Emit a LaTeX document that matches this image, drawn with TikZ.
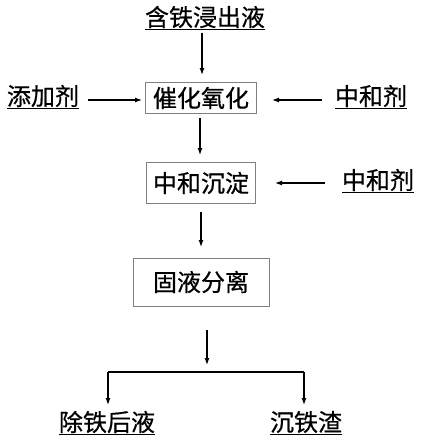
\documentclass[tikz,border=0pt]{standalone}
\usepackage{fontspec}
\setmainfont{Noto Sans CJK SC}[FakeBold=0.6]
\usetikzlibrary{arrows.meta}
\tikzset{
  stepbox/.style={draw=gray, line width=1pt, inner sep=0pt, font=\fontsize{24}{26}\selectfont},
  tag/.style={inner sep=0pt, font=\fontsize{24}{26}\selectfont},
  flow/.style={-{Latex[length=7pt,width=5pt]}, line width=1.2pt}
}
\begin{document}
\begin{tikzpicture}[x=1pt,y=-1pt]
    \useasboundingbox (0,0) rectangle (422,444);

    % Process boxes
    \node[stepbox, minimum width=111pt, minimum height=31pt] (ox) at (201,98) {催化氧化};
    \node[stepbox, minimum width=109pt, minimum height=41pt] (ne) at (201,183) {中和沉淀};
    \node[stepbox, minimum width=136pt, minimum height=48pt] (se) at (201,282) {固液分离};

    % Inputs and products
    \node[tag] (feed) at (205,18) {\underline{含铁浸出液}};
    \node[tag] (add) at (43,97) {\underline{添加剂}};
    \node[tag] (neu1) at (371,97) {\underline{中和剂}};
    \node[tag] (neu2) at (378,181) {\underline{中和剂}};
    \node[tag] (liq) at (107,423) {\underline{除铁后液}};
    \node[tag] (res) at (306,423) {\underline{沉铁渣}};

    % Free ends of the connectors
    \coordinate (feedout) at (202,33);
    \coordinate (addout) at (88,100);
    \coordinate (neu1out) at (322,100);
    \coordinate (neu2out) at (325,183);
    \coordinate (sepa) at (207,330);
    \coordinate (sepb) at (207,365);
    \coordinate (brl) at (108,372);
    \coordinate (brr) at (304,372);
    \coordinate (liqin) at (108,405);
    \coordinate (resin) at (304,405);

    % Connectors
    \draw[flow] (feedout) -- (202,75);
    \draw[flow] (addout) -- (142,100);
    \draw[flow] (neu1out) -- (272,100);
    \draw[flow] (200,118) -- (200,155);
    \draw[flow] (neu2out) -- (275,183);
    \draw[flow] (201,212) -- (201,247);
    \draw[flow] (sepa) -- (sepb);
    \draw[line width=1.2pt] (brl) -- (brr);
    \draw[flow] (brl) -- (liqin);
    \draw[flow] (brr) -- (resin);
\end{tikzpicture}
\end{document}
